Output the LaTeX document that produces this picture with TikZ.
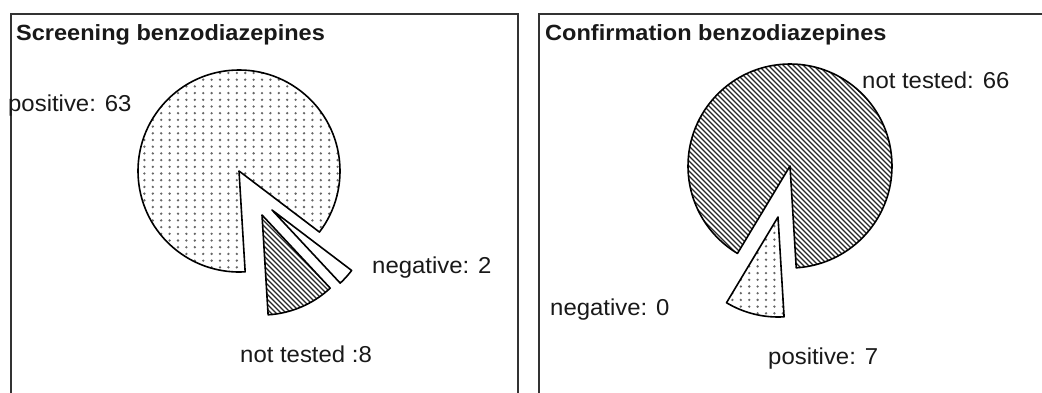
\documentclass[tikz,border=0pt]{standalone}
\usepackage{fontspec}
\setmainfont{Liberation Sans}
\newcommand{\mylbl}[1]{\scalebox{1.04}[1]{\fontsize{23}{27}\selectfont #1}}
\newcommand{\myttl}[1]{\scalebox{1.07}[1]{\fontsize{22}{26}\selectfont\bfseries #1}}
% dots grid over a box: x0,y0,nx,ny
\newcommand{\mydots}[4]{\foreach \i in {0,...,#3}{\foreach \j in {0,...,#4}{\fill[dotcol] ({#1+\i*8.4},{#2+\j*6.7}) circle (1.3);}}}
% hatch lines x+y=c, c = #1 + 5k, k = 0..#2
\newcommand{\myhatch}[2]{\foreach \k in {0,...,#2}{\draw[hatchline] ({#1+5*\k-420},420) -- ({#1+5*\k},0);}}
\tikzset{
  panel/.style={draw=black!80, line width=2.2pt},
  outline/.style={draw=black, line width=1.6pt, line join=round},
  dotcol/.style={fill=black!60},
  hatchline/.style={draw=black!85, line width=1.15pt},
  lbl/.style={anchor=base west, inner sep=0pt, text=black!90},
}
\begin{document}
\begin{tikzpicture}[x=1pt,y=1pt]
\useasboundingbox (0,0) rectangle (1042,392);
\clip (0,0) rectangle (1042,392);
\fill[white] (0,0) rectangle (1042,392);
% panels
\draw[panel] (11,-10) rectangle (518,378);
\draw[panel] (539,-10) rectangle (1060,378);
\node[lbl] (t1) at (16,351.5) {\myttl{Screening benzodiazepines}};
\node[lbl] (t2) at (545,351.5) {\myttl{Confirmation benzodiazepines}};
% left pie
\coordinate (lc) at (239,221);
\coordinate (lnt) at (262,177);
\coordinate (lneg) at (272,182);
\begin{scope}
  \clip (lc) -- +(-37.2:101) arc[start angle=-37.2, end angle=273.5, radius=101] -- cycle;
  \mydots{136}{118}{25}{32}
\end{scope}
\draw[outline] (lc) -- +(-37.2:101) arc[start angle=-37.2, end angle=273.5, radius=101] -- cycle;
\begin{scope}
  \clip (lnt) -- +(-86.5:100) arc[start angle=-86.5, end angle=-47, radius=100] -- cycle;
  \myhatch{330}{40}
\end{scope}
\draw[outline] (lnt) -- +(-86.5:100) arc[start angle=-86.5, end angle=-47, radius=100] -- cycle;
\draw[outline, fill=white] (lneg) -- +(-47:100) arc[start angle=-47, end angle=-37.2, radius=100] -- cycle;
\node[lbl] (lpos) at (8,281) {\mylbl{positive: 63}};
\node[lbl] (lnegl) at (372,119) {\mylbl{negative: 2}};
\node[lbl] (lntl) at (240,30) {\mylbl{not tested :8}};
% right pie
\coordinate (rc) at (790,226);
\coordinate (rpos) at (778,175);
\begin{scope}
  \clip (rc) -- +(-86.5:102) arc[start angle=-86.5, end angle=239, radius=102] -- cycle;
  \myhatch{800}{88}
\end{scope}
\draw[outline] (rc) -- +(-86.5:102) arc[start angle=-86.5, end angle=239, radius=102] -- cycle;
\begin{scope}
  \clip (rpos) -- +(-121:100) arc[start angle=-121, end angle=-86.5, radius=100] -- cycle;
  \mydots{724}{72}{8}{16}
\end{scope}
\draw[outline] (rpos) -- +(-121:100) arc[start angle=-121, end angle=-86.5, radius=100] -- cycle;
\node[lbl] (rntl) at (862,304) {\mylbl{not tested: 66}};
\node[lbl] (rnegl) at (550,77) {\mylbl{negative: 0}};
\node[lbl] (rposl) at (768,28) {\mylbl{positive: 7}};
\end{tikzpicture}
\end{document}
